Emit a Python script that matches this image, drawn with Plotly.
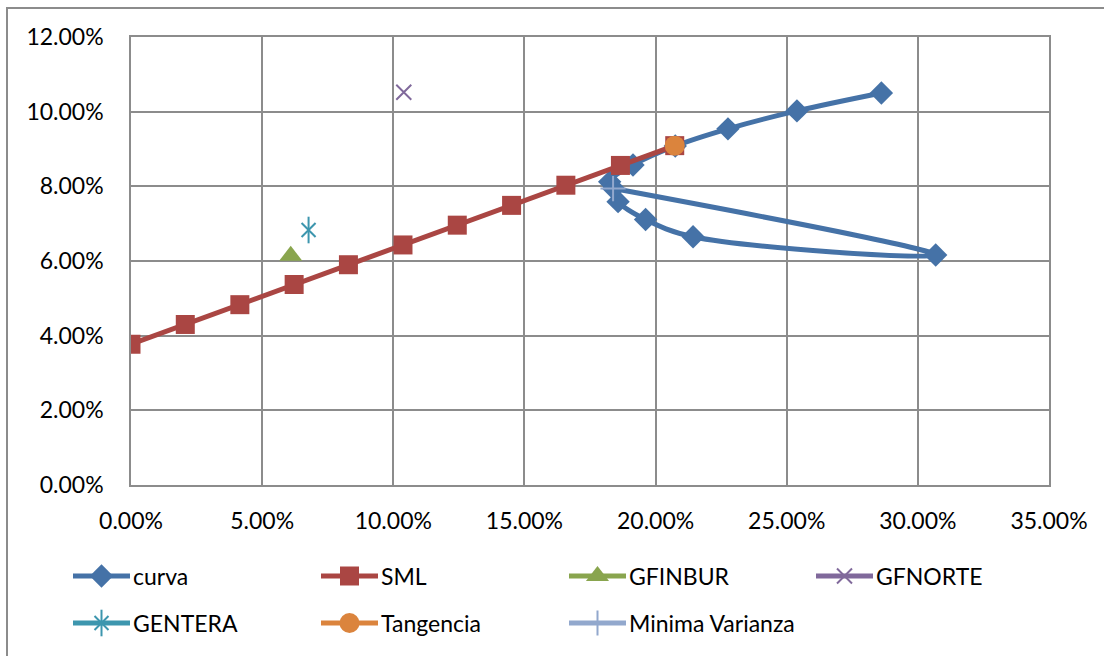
import plotly.graph_objects as go

# Efficient frontier (risk, return)
curva_x = [0.2861, 0.2539, 0.2276, 0.2075, 0.1914, 0.1825, 0.1857, 0.1962, 0.2143, 0.3068, 0.1840]
curva_y = [0.1050, 0.1002, 0.0954, 0.0908, 0.0857, 0.0812, 0.0759, 0.0711, 0.0665, 0.0616, 0.0794]

# Security market line
sml_x = [0.0, 0.0207, 0.0415, 0.0622, 0.0829, 0.1037, 0.1244, 0.1451, 0.1658, 0.1866, 0.2073]
sml_y = [0.0377, 0.0430, 0.0483, 0.0537, 0.0590, 0.0643, 0.0696, 0.0749, 0.0803, 0.0856, 0.0909]

# Individual assets and special portfolios
gfinbur = (0.0609, 0.0614)
gfnorte = (0.1040, 0.1052)
gentera = (0.0677, 0.0683)
tangencia = (0.2073, 0.0909)
minima_varianza = (0.1838, 0.0794)

x_ticks = [0.0, 0.05, 0.10, 0.15, 0.20, 0.25, 0.30, 0.35]
y_ticks = [0.0, 0.02, 0.04, 0.06, 0.08, 0.10, 0.12]

BLUE = "#4572A7"
RED = "#AA4643"
GREEN = "#89A54E"
PURPLE = "#80699B"
AQUA = "#3D96AE"
ORANGE = "#DB843D"
LIGHTBLUE = "#92A8CD"
GRID = "#8C8C8C"
FONT = "Lato"

W, H = 1104, 656
PLOT_L, PLOT_R, PLOT_T, PLOT_B = 131, 1049, 37, 485

# Per-series style: name, colour, list of (marker symbol, size, outline width)
styles = [
    ("curva", BLUE, [("diamond", 18, 0)]),
    ("SML", RED, [("square", 19, 0)]),
    ("GFINBUR", GREEN, [("triangle-up", 20, 0)]),
    ("GFNORTE", PURPLE, [("x-thin-open", 15, 2)]),
    # six-armed star: an x plus a vertical stroke
    ("GENTERA", AQUA, [("x-thin-open", 14, 2), ("line-ns-open", 19, 2)]),
    ("Tangencia", ORANGE, [("circle", 20, 0)]),
    ("Minima Varianza", LIGHTBLUE, [("cross-thin-open", 18, 2)]),
]


def marker_of(color, symbol, size, lw):
    m = dict(symbol=symbol, size=size, color=color)
    if lw:
        m["line"] = dict(color=color, width=lw)
    return m


series_data = [
    (curva_x, curva_y),
    (sml_x, sml_y),
    ([gfinbur[0]], [gfinbur[1]]),
    ([gfnorte[0]], [gfnorte[1]]),
    ([gentera[0]], [gentera[1]]),
    ([tangencia[0]], [tangencia[1]]),
    ([minima_varianza[0]], [minima_varianza[1]]),
]

fig = go.Figure()

for (name, color, marks), (xs, ys) in zip(styles, series_data):
    line = dict(color=color, width=5)
    if name == "curva":
        line.update(shape="spline", smoothing=1.0)
    for k, (symbol, size, lw) in enumerate(marks):
        fig.add_trace(go.Scatter(
            x=xs, y=ys, name=name, mode="lines+markers" if k == 0 else "markers",
            line=line, marker=marker_of(color, symbol, size, lw),
            showlegend=False, xaxis="x", yaxis="y",
        ))

# Legend drawn on a pixel-space overlay: 4 columns, 2 rows
col_x = [73, 321, 569, 816]
row_y = [576, 623]
for i, (name, color, marks) in enumerate(styles):
    cx = col_x[i % 4]
    cy = row_y[i // 4]
    fig.add_trace(go.Scatter(
        x=[cx, cx + 57], y=[cy, cy], mode="lines",
        line=dict(color=color, width=5), showlegend=False,
        hoverinfo="skip", xaxis="x2", yaxis="y2",
    ))
    for symbol, size, lw in marks:
        fig.add_trace(go.Scatter(
            x=[cx + 28.5], y=[cy], mode="markers",
            marker=marker_of(color, symbol, size, lw), showlegend=False,
            hoverinfo="skip", xaxis="x2", yaxis="y2",
        ))
    fig.add_annotation(
        x=cx + 58, y=cy, xref="x2", yref="y2", text=name, showarrow=False,
        xanchor="left", yanchor="middle",
        font=dict(family=FONT, size=23, color="#000000"),
    )

# Outer chart frame
fig.add_shape(type="rect", xref="x2", yref="y2",
              x0=7, y0=8, x1=W + 10, y1=H + 10,
              line=dict(color=GRID, width=2), fillcolor="rgba(0,0,0,0)", layer="below")

axis_common = dict(
    showgrid=True, gridcolor=GRID, gridwidth=1.5,
    showline=True, linecolor=GRID, linewidth=1.5, mirror=True,
    zeroline=False, ticks="", tickformat=".2%", automargin=False,
    tickfont=dict(family=FONT, size=23, color="#000000"),
)

fig.update_layout(
    width=W, height=H,
    margin=dict(l=0, r=0, t=0, b=0, pad=0, autoexpand=False),
    paper_bgcolor="white", plot_bgcolor="rgba(0,0,0,0)",
    font=dict(family=FONT, size=23, color="#000000"),
    showlegend=False,
    xaxis=dict(range=[0, 0.35], tickvals=x_ticks, ticklabelstandoff=15,
               domain=[PLOT_L / W, PLOT_R / W], anchor="y", **axis_common),
    yaxis=dict(range=[0, 0.12], tickvals=y_ticks, ticklabelstandoff=21,
               domain=[1 - PLOT_B / H, 1 - PLOT_T / H], anchor="x", **axis_common),
    xaxis2=dict(range=[0, W], domain=[0, 1], anchor="y2", visible=False,
                fixedrange=True, automargin=False),
    yaxis2=dict(range=[H, 0], domain=[0, 1], anchor="x2", visible=False,
                fixedrange=True, automargin=False),
)

fig.write_html("out.html")
